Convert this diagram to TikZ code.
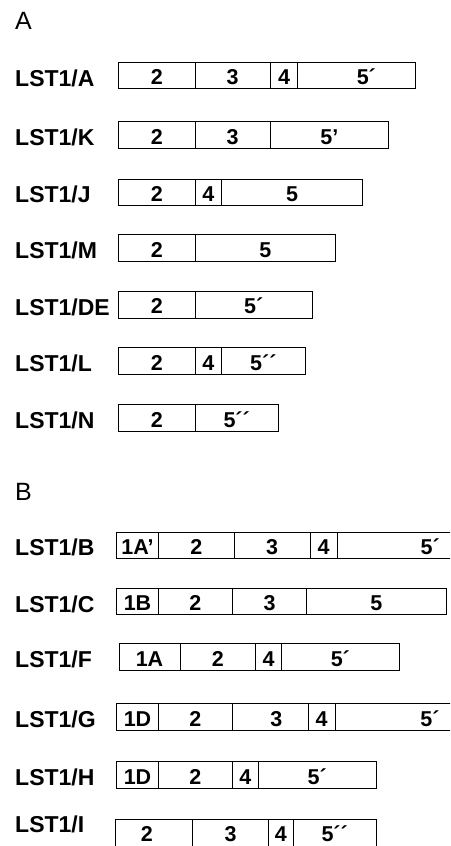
\documentclass[tikz,border=0pt]{standalone}
\usepackage{fontspec}
\setmainfont{Liberation Sans}
\begin{document}
\begin{tikzpicture}[x=1pt,y=-1pt,
  seg/.style={draw, line width=0.9pt, minimum height=26.5pt, inner sep=0pt, outer sep=0pt,
    anchor=west, font=\bfseries\fontsize{21.5}{21.5}\selectfont, text height=18.5pt, text depth=0pt},
  lastseg/.style={seg, text height=16pt},
  lab/.style={anchor=base west, inner sep=0pt, font=\bfseries\fontsize{23}{23}\selectfont},
  hdr/.style={anchor=base west, inner sep=0pt, font=\fontsize{25}{25}\selectfont}]
\useasboundingbox (0,0) rectangle (450,846);
\clip (0,0) rectangle (450,846);
% ---------- A ----------
\node[hdr] (hA) at (15,29.3) {A};
% LST1/A
\node[lab] (lA) at (15,86) {LST1/A};
\node[seg, minimum width=76.3pt] (a1) at (118.7,75.5) {2};
\node[seg, minimum width=75.3pt] (a2) at (a1.east) {3};
\node[seg, minimum width=27.4pt] (a3) at (a2.east) {4};
\node[seg, minimum width=117.3pt] (a4) at (a3.east) {\hspace*{20pt}5´};
% LST1/K
\node[lab] (lK) at (15,145.5) {LST1/K};
\node[seg, minimum width=76.3pt] (k1) at (118.7,135) {2};
\node[seg, minimum width=75.3pt] (k2) at (k1.east) {3};
\node[seg, minimum width=118pt] (k3) at (k2.east) {5'};
% LST1/J
\node[lab] (lJ) at (15,202.8) {LST1/J};
\node[seg, minimum width=76.3pt] (j1) at (118.7,192.3) {2};
\node[seg, minimum width=26.7pt] (j2) at (j1.east) {4};
\node[seg, minimum width=140.6pt] (j3) at (j2.east) {5};
% LST1/M
\node[lab] (lM) at (15,258.5) {LST1/M};
\node[seg, minimum width=76.3pt] (m1) at (118.7,248) {2};
\node[seg, minimum width=140.7pt] (m2) at (m1.east) {5};
% LST1/DE
\node[lab] (lDE) at (15,315.2) {LST1/DE};
\node[seg, minimum width=76.3pt] (d1) at (118.7,304.7) {2};
\node[seg, minimum width=117.3pt] (d2) at (d1.east) {5´};
% LST1/L
\node[lab] (lL) at (15,371.5) {LST1/L};
\node[seg, minimum width=76.3pt] (l1) at (118.7,361) {2};
\node[seg, minimum width=26.7pt] (l2) at (l1.east) {4};
\node[seg, minimum width=83.3pt] (l3) at (l2.east) {5´´};
% LST1/N
\node[lab] (lN) at (15,428.5) {LST1/N};
\node[seg, minimum width=76.3pt] (n1) at (118.7,418) {2};
\node[seg, minimum width=83.3pt] (n2) at (n1.east) {5´´};
% ---------- B ----------
\node[hdr] (hB) at (15,500) {B};
% LST1/B
\node[lab] (lB) at (15,555.5) {LST1/B};
\node[seg, minimum width=41.6pt] (b1) at (116.7,545.5) {1A'};
\node[seg, minimum width=76pt] (b2) at (b1.east) {2};
\node[seg, minimum width=75.7pt] (b3) at (b2.east) {3};
\node[seg, minimum width=27.3pt] (b4) at (b3.east) {4};
\node[seg, minimum width=186pt] (b5) at (b4.east) {5´};
% LST1/C
\node[lab] (lC) at (15,612) {LST1/C};
\node[seg, minimum width=41.6pt] (c1) at (116.7,601.5) {1B};
\node[seg, minimum width=74pt] (c2) at (c1.east) {2};
\node[seg, minimum width=74.4pt] (c3) at (c2.east) {3};
\node[seg, minimum width=139.3pt] (c4) at (c3.east) {5};
% LST1/F
\node[lab] (lF) at (15,667.5) {LST1/F};
\node[seg, minimum width=61pt] (f1) at (119,657) {1A};
\node[seg, minimum width=75.7pt] (f2) at (f1.east) {2};
\node[seg, minimum width=26pt] (f3) at (f2.east) {4};
\node[seg, minimum width=117.3pt] (f4) at (f3.east) {5´};
% LST1/G
\node[lab] (lG) at (15,727.5) {LST1/G};
\node[seg, minimum width=41.6pt] (g1) at (116.7,717) {1D};
\node[seg, minimum width=74pt] (g2) at (g1.east) {2};
\node[seg, minimum width=76pt] (g3) at (g2.east) {\hspace*{12pt}3};
\node[seg, minimum width=26.7pt] (g4) at (g3.east) {4};
\node[seg, minimum width=190pt] (g5) at (g4.east) {5´};
% LST1/H
\node[lab] (lH) at (15,785.5) {LST1/H};
\node[seg, minimum width=41.6pt] (h1) at (116.7,775) {1D};
\node[seg, minimum width=74pt] (h2) at (h1.east) {2};
\node[seg, minimum width=26pt] (h3) at (h2.east) {4};
\node[seg, minimum width=117.7pt] (h4) at (h3.east) {5´};
% LST1/I
\node[lab] (lI) at (15,832) {LST1/I};
\node[lastseg, minimum width=77.7pt] (i1) at (115,833) {2\hspace*{14pt}};
\node[lastseg, minimum width=75.6pt] (i2) at (i1.east) {3};
\node[lastseg, minimum width=25pt] (i3) at (i2.east) {4};
\node[lastseg, minimum width=82.7pt] (i4) at (i3.east) {5´´};
\end{tikzpicture}
\end{document}
